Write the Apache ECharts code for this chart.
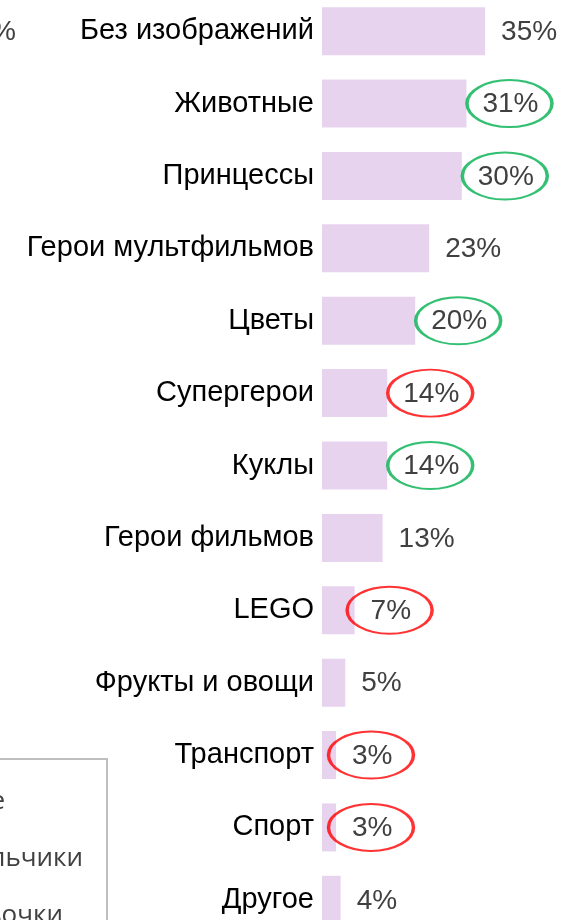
<!DOCTYPE html>
<html>
<head>
<meta charset="utf-8">
<script src="https://cdn.jsdelivr.net/npm/echarts@6/dist/echarts.min.js"></script>
<style>
  html, body { margin: 0; padding: 0; background: #fff; }
  #chart { width: 587px; height: 920px; }
</style>
</head>
<body>
<div id="chart"></div>
<script>
// categories top to bottom
const categories = [
  'Без изображений', 'Животные', 'Принцессы', 'Герои мультфильмов', 'Цветы',
  'Супергерои', 'Куклы', 'Герои фильмов', 'LEGO', 'Фрукты и овощи',
  'Транспорт', 'Спорт', 'Другое'
];
const shares = [35, 31, 30, 23, 20, 14, 14, 13, 7, 5, 3, 3, 4];
// which value labels are circled in the source, and in which colour
const marks = ['', 'green', 'green', '', 'green', 'red', 'green', '', 'red', '', 'red', 'red', ''];
// cut-off legend of the neighbouring panel
const legendLabels = ['Все', 'Мальчики', 'Девочки'];

const MARK_COLORS = { green: '#00b050', red: '#ff0000' };
const ARIAL = '"Liberation Sans", Arial, sans-serif';
const LABEL_FONT = 28;

const chart = echarts.init(document.getElementById('chart'), null, { renderer: 'canvas' });

const ringData = [];
categories.forEach((cat, i) => {
  if (!marks[i]) return;
  const txtW = String(shares[i]).length === 1 ? 40 : 56;
  ringData.push({
    value: [shares[i], cat],
    symbolOffset: [16 + txtW / 2 - 1, 0],
    itemStyle: { borderColor: MARK_COLORS[marks[i]] }
  });
});

chart.setOption({
  animation: false,
  grid: { left: 322, width: 233, top: -5, height: 941, outerBoundsMode: 'none' },
  xAxis: {
    type: 'value',
    min: 0,
    max: 50,
    show: false
  },
  yAxis: {
    type: 'category',
    data: categories,
    inverse: true,
    axisLine: { show: false },
    axisTick: { show: false },
    axisLabel: {
      margin: 8,
      color: '#000',
      fontFamily: ARIAL,
      fontSize: 29
    }
  },
  series: [
    {
      type: 'bar',
      data: shares,
      barWidth: 48,
      itemStyle: { color: '#e8d3ef' },
      label: {
        show: true,
        position: 'right',
        distance: 16,
        offset: [0, 1],
        formatter: '{c}%',
        color: '#404040',
        fontFamily: ARIAL,
        fontSize: LABEL_FONT
      }
    },
    {
      type: 'scatter',
      data: ringData,
      symbol: 'circle',
      symbolSize: [85, 47],
      itemStyle: { color: 'transparent', borderWidth: 2.6 },
      silent: true,
      z: 5
    }
  ],
  graphic: [
    // tail of a value label from the panel to the left
    {
      type: 'text', x: 16, y: 18,
      style: { text: '35%', align: 'right', fill: '#404040', font: LABEL_FONT + 'px ' + ARIAL }
    },
    {
      type: 'rect', shape: { x: -200, y: 759, width: 307, height: 300 },
      style: { fill: 'none', stroke: '#bfbfbf', lineWidth: 2 }
    },
    {
      type: 'text', x: 5, y: 789,
      style: { text: legendLabels[0], align: 'right', fill: '#404040', font: '26px "Open Sans", sans-serif' }
    },
    {
      type: 'text', x: 83, y: 846,
      style: { text: legendLabels[1], align: 'right', fill: '#404040', font: '26px "Open Sans", sans-serif' }
    },
    {
      type: 'text', x: 63, y: 903,
      style: { text: legendLabels[2], align: 'right', fill: '#404040', font: '26px "Open Sans", sans-serif' }
    }
  ]
});
</script>
</body>
</html>
